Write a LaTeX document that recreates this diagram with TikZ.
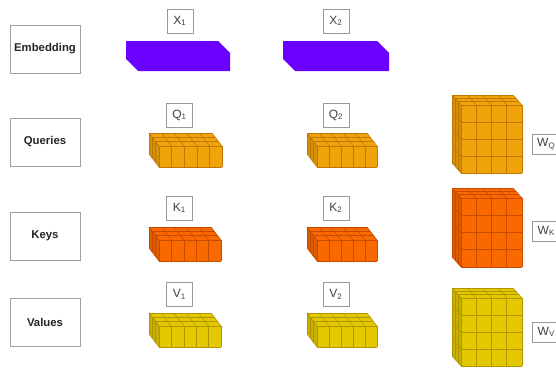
\documentclass[tikz,border=0pt]{standalone}
\usepackage{fontspec}
\setmainfont{Liberation Sans}
\definecolor{purpF}{HTML}{6A00FF}
\definecolor{purpD}{HTML}{4A00C0}
\definecolor{ambF}{HTML}{F0A30A}
\definecolor{ambD}{HTML}{C07800}
\definecolor{orgF}{HTML}{FA6800}
\definecolor{orgD}{HTML}{C74A00}
\definecolor{yelF}{HTML}{E3C800}
\definecolor{yelD}{HTML}{B09500}
\tikzset{
  catbox/.style={draw=gray!75, line width=0.6pt, minimum width=52.5pt, minimum height=36pt,
    inner sep=0pt, font=\fontsize{8.5}{10}\selectfont\bfseries, text=black!85},
  lab/.style={draw=gray!80, line width=0.5pt, minimum width=19.5pt, minimum height=18pt,
    inner sep=0pt, font=\fontsize{9}{10}\selectfont, text=black!75},
  wlab/.style={draw=gray!80, line width=0.5pt, minimum width=21pt, minimum height=15pt,
    inner sep=0pt, anchor=west, font=\fontsize{9}{10}\selectfont, text=black!75},
}
% x0 y0 w h dx dy nx ny colourprefix
\newcommand\gridcube[9]{%
  \begin{scope}[shift={(#1,#2)}]
    \fill[#9F] (0,0) -- (#3,0) -- (#3+#5,#6) -- (#5,#6) -- cycle;
    \fill[#9F!88!black] (0,0) -- (#5,#6) -- (#5,#6+#4) -- (0,#4) -- cycle;
    \fill[#9F] (#5,#6) rectangle (#5+#3,#6+#4);
    \begin{scope}[draw=#9D, line width=0.4pt]
      \foreach \i in {0,...,#7} {
        \draw (#5+\i*#3/#7,#6) -- ++(0,#4);
        \draw (\i*#3/#7,0) -- ++(#5,#6);
      }
      \foreach \j in {0,...,#8} {
        \draw (#5,#6+\j*#4/#8) -- ++(#3,0);
        \draw (0,\j*#4/#8) -- ++(#5,#6);
      }
      \foreach \k in {0,...,3} {
        \draw (\k*#5/3,\k*#6/3) -- ++(#3,0);
        \draw (\k*#5/3,\k*#6/3) -- ++(0,#4);
      }
    \end{scope}
  \end{scope}}
% x0 y0 w h dx dy
\newcommand\plainslab[6]{%
  \begin{scope}[shift={(#1,#2)}]
    \fill[purpF] (0,0) -- (#3,0) -- (#3+#5,#6) -- (#3+#5,#6+#4) -- (#5,#6+#4) -- (0,#4) -- cycle;
  \end{scope}}
\begin{document}
\begin{tikzpicture}[x=0.75pt,y=-0.75pt]
\useasboundingbox[fill=white] (0,0) rectangle (556,371);

% category boxes
\node[catbox] (emb) at (45,49) {Embedding};
\node[catbox] (que) at (45,142) {Queries};
\node[catbox] (key) at (45,236) {Keys};
\node[catbox] (val) at (45,322) {Values};

% labels
\node[lab] (x1) at (180,21) {X\textsubscript{1}};
\node[lab] (x2) at (336,21) {X\textsubscript{2}};
\node[lab] (q1) at (179.5,115) {Q\textsubscript{1}};
\node[lab] (q2) at (336,115) {Q\textsubscript{2}};
\node[lab] (k1) at (179.5,208) {K\textsubscript{1}};
\node[lab] (k2) at (336,208) {K\textsubscript{2}};
\node[lab] (v1) at (179.5,294.5) {V\textsubscript{1}};
\node[lab] (v2) at (336,294.5) {V\textsubscript{2}};
\node[wlab] (wq) at (532,144) {W\textsubscript{Q}};
\node[wlab] (wk) at (532,231) {W\textsubscript{K}};
\node[wlab] (wv) at (532,332) {W\textsubscript{V}};

% embeddings
\plainslab{126}{41}{92}{18}{12}{12}
\plainslab{283}{41}{94}{18}{12}{12}

% queries / keys / values slabs
\gridcube{149}{133}{63}{21}{10}{13}{5}{1}{amb}
\gridcube{307}{133}{60}{21}{10}{13}{5}{1}{amb}
\gridcube{149}{227}{62}{21}{10}{13}{5}{1}{org}
\gridcube{307}{227}{60}{21}{10}{13}{5}{1}{org}
\gridcube{149}{313}{62}{21}{10}{13}{5}{1}{yel}
\gridcube{307}{313}{60}{21}{10}{13}{5}{1}{yel}

% weight cubes
\gridcube{452}{95}{61}{68}{9}{10}{4}{4}{amb}
\gridcube{452}{188}{61}{69}{9}{10}{4}{4}{org}
\gridcube{452}{288}{61}{68}{9}{10}{4}{4}{yel}
\end{tikzpicture}
\end{document}
